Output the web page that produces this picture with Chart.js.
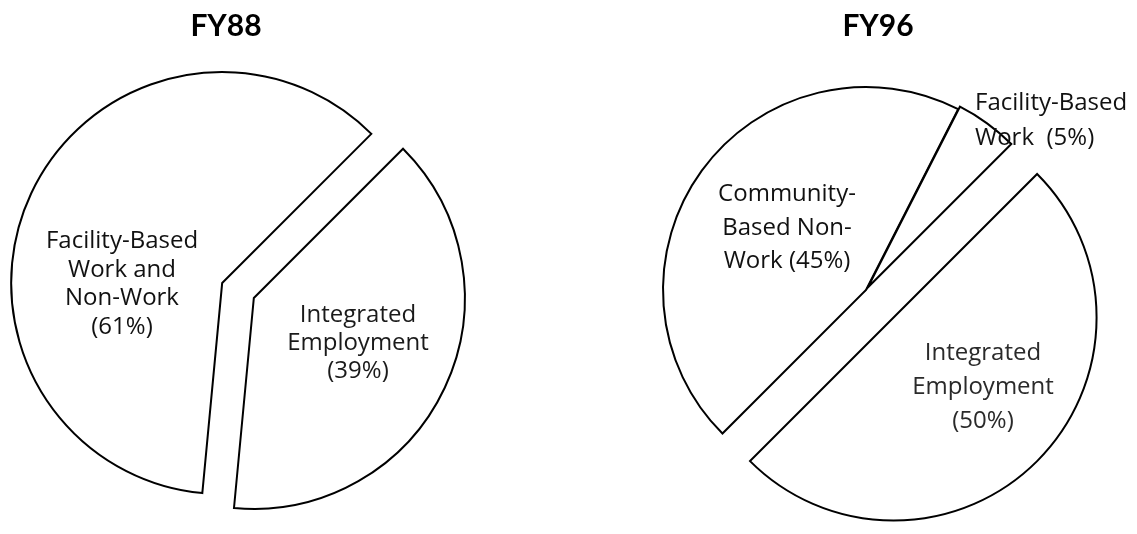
<!DOCTYPE html>
<html>
<head>
<meta charset="utf-8">
<script src="https://cdn.jsdelivr.net/npm/chart.js@4.4.1/dist/chart.umd.min.js"></script>
<style>
  html, body { margin: 0; padding: 0; background: #ffffff; }
  #wrap { position: relative; width: 1137px; height: 534px; overflow: hidden; background: #fff; }
  canvas { position: absolute; left: 0; top: 0; }
</style>
</head>
<body>
<div id="wrap">
  <canvas id="c88" width="1137" height="534"></canvas>
  <canvas id="c96" width="1137" height="534"></canvas>
</div>
<script>
// ---- data ----
const fy88Title = 'FY88';
const fy88Labels = ['Integrated Employment', 'Facility-Based Work and Non-Work'];
const fy88Values = [39, 61];
const fy88LabelLines = [
  ['Integrated', 'Employment', '({v}%)'],
  ['Facility-Based', 'Work and', 'Non-Work', '({v}%)']
];

const fy96Title = 'FY96';
const fy96Labels = ['Integrated Employment', 'Community-Based Non-Work', 'Facility-Based Work'];
const fy96Values = [50, 45, 5];
const fy96LabelLines = [
  ['Integrated', 'Employment', '({v}%)'],
  ['Community-', 'Based Non-', 'Work ({v}%)'],
  ['Facility-Based', 'Work  ({v}%)']
];

// ---- layout (positions / styles) ----
const LABEL_FONT = '"Open Sans", Lato, sans-serif';
const TITLE_FONT = 'Lato, "Open Sans", sans-serif';

const layout88 = {
  padding: { left: 0, right: 661, top: 47, bottom: 0 },
  radius: 211,
  explode: [17.5, 17.5],
  title: { dx: -12, dy: -254.5, size: 30 },
  labels: [
    { dx: 120, dy: 31.5, lh: 28, size: 24, align: 'center', color: '#1a1a1a' },
    { dx: -116, dy: -42.5, lh: 28.5, size: 24, align: 'center', color: '#111' }
  ]
};
const layout96 = {
  padding: { left: 595, right: 0, top: 46, bottom: 0 },
  radius: 203,
  explode: [39, 0, 3],
  title: { dx: 12, dy: -254, size: 30 },
  labels: [
    { dx: 117, dy: 70, lh: 34, size: 24, align: 'center', color: '#2a2a2a' },
    { dx: -79, dy: -89, lh: 33.5, size: 24, align: 'center', color: '#111' },
    { dx: 109, dy: -180, lh: 35, size: 24, align: 'left', color: '#111' }
  ]
};

const explodePlugin = {
  id: 'explodeDraw',
  beforeDatasetDraw(chart, args, opts) {
    const ctx = chart.ctx;
    const d = opts.distances || [];
    args.meta.data.forEach((arc, i) => {
      const mid = (arc.startAngle + arc.endAngle) / 2;
      const dist = d[i] || 0;
      ctx.save();
      ctx.translate(Math.cos(mid) * dist, Math.sin(mid) * dist);
      arc.draw(ctx);
      ctx.restore();
    });
    return false;
  }
};

const textPlugin = {
  id: 'sliceText',
  afterDatasetsDraw(chart, args, opts) {
    const ctx = chart.ctx;
    const a = chart.chartArea;
    const cx = (a.left + a.right) / 2;
    const cy = (a.top + a.bottom) / 2;
    const values = chart.data.datasets[0].data;
    ctx.save();
    ctx.textBaseline = 'alphabetic';
    ctx.fillStyle = '#000';
    ctx.textAlign = 'center';
    ctx.font = 'bold ' + opts.title.size + 'px ' + TITLE_FONT;
    ctx.fillText(opts.titleText, cx + opts.title.dx, cy + opts.title.dy);
    opts.lines.forEach((lines, i) => {
      const L = opts.labels[i];
      ctx.font = L.size + 'px ' + LABEL_FONT;
      ctx.textAlign = L.align;
      ctx.fillStyle = L.color;
      lines.forEach((t, k) => {
        const txt = t.replace('{v}', values[i]);
        ctx.fillText(txt, cx + L.dx, cy + L.dy + k * L.lh);
      });
    });
    ctx.restore();
  }
};

function makePie(id, title, labels, values, lines, lay) {
  return new Chart(document.getElementById(id), {
    type: 'pie',
    data: {
      labels: labels,
      datasets: [{
        data: values,
        backgroundColor: '#ffffff',
        borderColor: '#000000',
        borderWidth: 2,
        borderJoinStyle: 'miter',
        borderAlign: 'center'
      }]
    },
    options: {
      responsive: false,
      animation: false,
      events: [],
      rotation: 45,
      radius: lay.radius,
      layout: { padding: lay.padding },
      plugins: {
        legend: { display: false },
        tooltip: { enabled: false },
        title: { display: false },
        explodeDraw: { distances: lay.explode },
        sliceText: { titleText: title, title: lay.title, labels: lay.labels, lines: lines }
      }
    },
    plugins: [explodePlugin, textPlugin]
  });
}

makePie('c88', fy88Title, fy88Labels, fy88Values, fy88LabelLines, layout88);
makePie('c96', fy96Title, fy96Labels, fy96Values, fy96LabelLines, layout96);
</script>
</body>
</html>
